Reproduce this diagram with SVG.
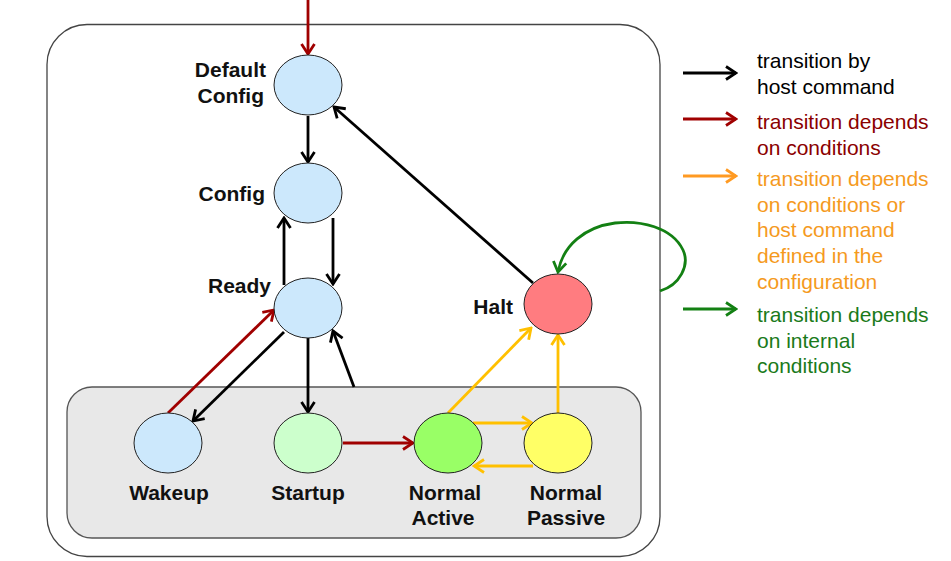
<svg xmlns="http://www.w3.org/2000/svg" width="951" height="561" viewBox="0 0 951 561">
<style>
.node{stroke:#222;stroke-width:1}
.blue{fill:#CCE8FC}
.lbl{font-family:"Liberation Sans",Arial,sans-serif;font-weight:bold;font-size:21px;fill:#111}
.leg{font-family:"Liberation Sans",Arial,sans-serif;font-size:21px}
.c{fill:none;stroke-width:2.8}
.k{stroke:#000}
.r{stroke:#A00000}
.y{stroke:#FFC000}
.g{stroke:#138013}
.o{stroke:#FF9A22}
</style>
<defs>
<marker id="ak" markerUnits="userSpaceOnUse" viewBox="-12 -8 14 16" refX="0" refY="0" markerWidth="14" markerHeight="16" orient="auto"><path d="M-10,-6.5 L0,0 L-10,6.5" fill="none" stroke="#000" stroke-width="2.8"/></marker>
<marker id="ar" markerUnits="userSpaceOnUse" viewBox="-12 -8 14 16" refX="0" refY="0" markerWidth="14" markerHeight="16" orient="auto"><path d="M-10,-6.5 L0,0 L-10,6.5" fill="none" stroke="#A00000" stroke-width="2.8"/></marker>
<marker id="ay" markerUnits="userSpaceOnUse" viewBox="-12 -8 14 16" refX="0" refY="0" markerWidth="14" markerHeight="16" orient="auto"><path d="M-10,-6.5 L0,0 L-10,6.5" fill="none" stroke="#FFC000" stroke-width="2.8"/></marker>
<marker id="ag" markerUnits="userSpaceOnUse" viewBox="-12 -8 14 16" refX="0" refY="0" markerWidth="14" markerHeight="16" orient="auto"><path d="M-10,-6.5 L0,0 L-10,6.5" fill="none" stroke="#138013" stroke-width="2.8"/></marker>
<marker id="ao" markerUnits="userSpaceOnUse" viewBox="-12 -8 14 16" refX="0" refY="0" markerWidth="14" markerHeight="16" orient="auto"><path d="M-10,-6.5 L0,0 L-10,6.5" fill="none" stroke="#FF9A22" stroke-width="2.8"/></marker>
</defs>
<rect width="951" height="561" fill="#fff"/>
<g id="outer-box">
<rect x="47" y="24.5" width="613" height="532" rx="40" ry="40" fill="none" stroke="#444" stroke-width="1.3"/>
</g>
<g id="inner-box">
<rect x="67" y="387" width="574" height="151" rx="25" ry="25" fill="#E8E8E8" stroke="#555" stroke-width="1.3"/>
</g>
<g id="connectors">
<line class="c r" x1="308" y1="0" x2="308" y2="54" marker-end="url(#ar)"/>
<line class="c k" x1="308" y1="116" x2="308" y2="162" marker-end="url(#ak)"/>
<line class="c k" x1="333" y1="218" x2="333" y2="284" marker-end="url(#ak)"/>
<line class="c k" x1="284" y1="285" x2="284" y2="218" marker-end="url(#ak)"/>
<line class="c k" x1="533" y1="283" x2="334" y2="107" marker-end="url(#ak)"/>
<line class="c r" x1="168" y1="413" x2="274" y2="310" marker-end="url(#ar)"/>
<line class="c k" x1="284" y1="332" x2="193" y2="421" marker-end="url(#ak)"/>
<line class="c k" x1="308" y1="338" x2="308" y2="412" marker-end="url(#ak)"/>
<line class="c k" x1="354" y1="387" x2="333" y2="331" marker-end="url(#ak)"/>
<line class="c r" x1="343" y1="443" x2="413" y2="443" marker-end="url(#ar)"/>
<line class="c y" x1="448" y1="413" x2="531" y2="328" marker-end="url(#ay)"/>
<line class="c y" x1="558" y1="413" x2="558" y2="335" marker-end="url(#ay)"/>
<line class="c y" x1="473" y1="423" x2="532" y2="423" marker-end="url(#ay)"/>
<line class="c y" x1="533" y1="466" x2="474" y2="466" marker-end="url(#ay)"/>
<path class="c g" d="M660,291 C680,285 690,265 683,250 C672,227 640,220 615,223 C585,227 563,245 558,272" marker-end="url(#ag)"/>
</g>
<g id="node-default-config">
<ellipse class="node blue" cx="308" cy="85" rx="34" ry="30"/>
<text class="lbl" x="266" y="77" text-anchor="end">Default</text>
<text class="lbl" x="264" y="103" text-anchor="end">Config</text>
</g>
<g id="node-config">
<ellipse class="node blue" cx="308" cy="193" rx="34" ry="30"/>
<text class="lbl" x="265" y="201" text-anchor="end">Config</text>
</g>
<g id="node-ready">
<ellipse class="node blue" cx="308" cy="308" rx="34" ry="30"/>
<text class="lbl" x="271" y="293" text-anchor="end">Ready</text>
</g>
<g id="node-halt">
<ellipse class="node" cx="558" cy="304" rx="34" ry="30" fill="#FF7C80"/>
<text class="lbl" x="513" y="314" text-anchor="end">Halt</text>
</g>
<g id="node-wakeup">
<ellipse class="node blue" cx="168" cy="443" rx="34" ry="30"/>
<text class="lbl" x="169" y="500" text-anchor="middle">Wakeup</text>
</g>
<g id="node-startup">
<ellipse class="node" cx="308" cy="443" rx="34" ry="30" fill="#CCFFCC"/>
<text class="lbl" x="308" y="500" text-anchor="middle">Startup</text>
</g>
<g id="node-normal-active">
<ellipse class="node" cx="448" cy="443" rx="34" ry="30" fill="#99FF66"/>
<text class="lbl" x="445" y="500" text-anchor="middle">Normal</text>
<text class="lbl" x="443" y="525" text-anchor="middle">Active</text>
</g>
<g id="node-normal-passive">
<ellipse class="node" cx="558" cy="443" rx="34" ry="30" fill="#FFFF66"/>
<text class="lbl" x="566" y="500" text-anchor="middle">Normal</text>
<text class="lbl" x="566" y="525" text-anchor="middle">Passive</text>
</g>
<g id="legend">
<line class="c k" x1="683" y1="73" x2="736" y2="73" marker-end="url(#ak)"/>
<text class="leg" x="757" y="68" fill="#000">transition by</text>
<text class="leg" x="757" y="94" fill="#000">host command</text>
<line class="c r" x1="683" y1="119" x2="736" y2="119" marker-end="url(#ar)"/>
<text class="leg" x="757" y="129" fill="#8B0000">transition depends</text>
<text class="leg" x="757" y="155" fill="#8B0000">on conditions</text>
<line class="c o" x1="683" y1="176" x2="736" y2="176" marker-end="url(#ao)"/>
<text class="leg" x="757" y="186" fill="#F59A1E">transition depends</text>
<text class="leg" x="757" y="212" fill="#F59A1E">on conditions or</text>
<text class="leg" x="757" y="237" fill="#F59A1E">host command</text>
<text class="leg" x="757" y="263" fill="#F59A1E">defined in the</text>
<text class="leg" x="757" y="289" fill="#F59A1E">configuration</text>
<line class="c g" x1="683" y1="309" x2="736" y2="309" marker-end="url(#ag)"/>
<text class="leg" x="757" y="322" fill="#1A7A1A">transition depends</text>
<text class="leg" x="757" y="348" fill="#1A7A1A">on internal</text>
<text class="leg" x="757" y="373" fill="#1A7A1A">conditions</text>
</g>
</svg>
